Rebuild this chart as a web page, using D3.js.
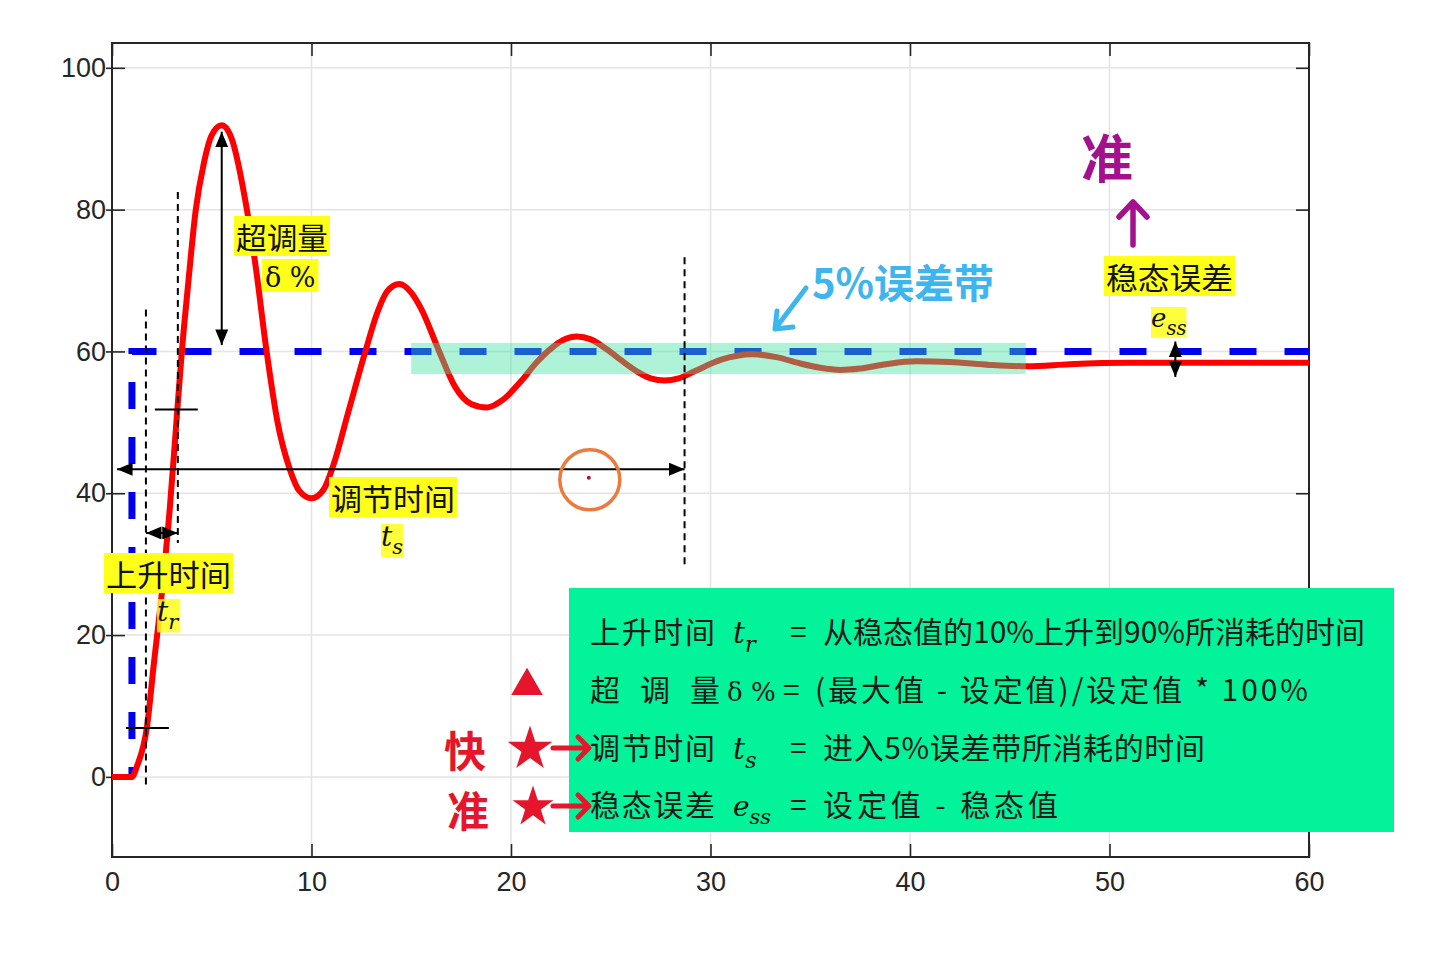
<!DOCTYPE html>
<html>
<head>
<meta charset="utf-8">
<script src="https://cdn.jsdelivr.net/npm/d3@7"></script>
<style>
  body { margin: 0; background: #fff; }
  svg { display: block; }
</style>
</head>
<body>
<script>
// 系统阶跃响应曲线
const respT = [0, 1.0, 1.25, 1.75, 2.1, 2.5, 2.9, 3.2, 3.5, 3.8, 4.2, 4.6, 5.0, 5.5, 6.0, 6.7, 7.2, 7.75, 8.3, 8.9, 9.4, 10.0, 10.6, 11.1, 11.8, 12.7, 13.3, 13.8, 14.4, 15.0, 15.5, 16.4, 17.2, 18.0, 18.8, 19.6, 20.5, 21.3, 22.0, 22.6, 23.3, 24.0, 24.8, 25.5, 26.3, 27.0, 27.7, 28.4, 29.2, 30.5, 32.1, 33.3, 34.5, 35.5, 36.5, 37.5, 38.8, 40.3, 42.0, 44.0, 45.9, 48.0, 51.0, 60.0];
const respV = [0, 0, 1.5, 7, 16, 26, 38, 49, 60, 69, 80, 86.5, 90.5, 91.9, 90, 81, 72, 60, 50, 43.5, 40.3, 39.3, 40.5, 44, 51, 60, 65.5, 68.5, 69.5, 68.3, 66, 60, 55, 52.6, 52.1, 53.2, 55.8, 58.5, 60.4, 61.6, 62.1, 61.7, 60.3, 58.8, 57.2, 56.2, 55.9, 56.2, 57.2, 58.8, 59.6, 59.2, 58.3, 57.7, 57.4, 57.6, 58.2, 58.6, 58.5, 58.1, 57.9, 58.2, 58.4, 58.4];

// 设定值 (阶跃输入)
const setT = [1, 1, 60];
const setV = [0, 60, 60];

// 坐标轴刻度
const xTicks = [0, 10, 20, 30, 40, 50, 60];
const yTicks = [0, 20, 40, 60, 80, 100];

// 5% 误差带
const bandT = [15, 45.8];
const bandV = [56.8, 61.2];

// 标注用的时间点和数值
const riseTimes = [1.7, 3.3];
const riseLevels = [6.9, 51.8];
const settleTime = 28.7;
const peakTime = 5.5;
const peakValue = 91.9;
const essTime = 53.3;

const width = 1440, height = 966;
const svg = d3.select("body").append("svg")
  .attr("width", width)
  .attr("height", height);

const x = d3.scaleLinear().domain([0, 60]).range([112, 1309]);
const y = d3.scaleLinear().domain([-11.3, 103.5]).range([857, 43]);

const defs = svg.append("defs");
defs.append("marker")
  .attr("id", "head")
  .attr("viewBox", "0 0 12 10")
  .attr("refX", 12).attr("refY", 5)
  .attr("markerUnits", "userSpaceOnUse")
  .attr("markerWidth", 16).attr("markerHeight", 13)
  .attr("orient", "auto-start-reverse")
  .append("path")
  .attr("d", "M0,0 L12,5 L0,10 z")
  .attr("fill", "#000");

// 网格
const grid = svg.append("g").attr("stroke", "#e4e4e4").attr("stroke-width", 1.5);
grid.selectAll(".gx").data(xTicks).join("line")
  .attr("x1", x).attr("x2", x)
  .attr("y1", y.range()[1]).attr("y2", y.range()[0]);
grid.selectAll(".gy").data(yTicks).join("line")
  .attr("y1", y).attr("y2", y)
  .attr("x1", x.range()[0]).attr("x2", x.range()[1]);

// 坐标轴
function styleAxis(g) {
  g.select(".domain").remove();
  g.selectAll("line").attr("stroke", "#262626").attr("stroke-width", 1.6);
  g.selectAll("text")
    .attr("font-family", "Liberation Sans, Arial, sans-serif")
    .attr("font-size", 27)
    .attr("fill", "#262626");
}
svg.append("g")
  .attr("transform", `translate(0,${y.range()[0]})`)
  .call(d3.axisBottom(x).tickValues(xTicks).tickSize(-13).tickPadding(15))
  .call(styleAxis);
svg.append("g")
  .attr("transform", `translate(${x.range()[0]},0)`)
  .call(d3.axisLeft(y).tickValues(yTicks).tickSize(-13).tickPadding(6))
  .call(styleAxis);
svg.append("g")
  .attr("transform", `translate(${x.range()[0]},0)`)
  .call(d3.axisLeft(y).tickValues(yTicks).tickSize(6).tickFormat(""))
  .call(styleAxis);
svg.append("g")
  .attr("transform", `translate(0,${y.range()[1]})`)
  .call(d3.axisTop(x).tickValues(xTicks).tickSize(-13).tickFormat(""))
  .call(styleAxis);
svg.append("g")
  .attr("transform", `translate(${x.range()[1]},0)`)
  .call(d3.axisRight(y).tickValues(yTicks).tickSize(-13).tickFormat(""))
  .call(styleAxis);

svg.append("rect")
  .attr("x", x.range()[0]).attr("y", y.range()[1])
  .attr("width", x.range()[1] - x.range()[0])
  .attr("height", y.range()[0] - y.range()[1])
  .attr("fill", "none").attr("stroke", "#262626").attr("stroke-width", 2);

// 设定值虚线
svg.append("path")
  .datum(d3.zip(setT, setV))
  .attr("d", d3.line().x(d => x(d[0])).y(d => y(d[1])))
  .attr("fill", "none")
  .attr("stroke", "#0000ee")
  .attr("stroke-width", 7)
  .attr("stroke-dasharray", "27 28")
  .attr("stroke-dashoffset", 17);

// 响应曲线
svg.append("path")
  .datum(d3.zip(respT, respV))
  .attr("d", d3.line().x(d => x(d[0])).y(d => y(d[1])).curve(d3.curveMonotoneX))
  .attr("fill", "none")
  .attr("stroke", "#ff0000")
  .attr("stroke-width", 6)
  .attr("stroke-linejoin", "round");

// 误差带
svg.append("rect")
  .attr("x", x(bandT[0])).attr("y", y(bandV[1]))
  .attr("width", x(bandT[1]) - x(bandT[0]))
  .attr("height", y(bandV[0]) - y(bandV[1]))
  .attr("fill", "#3de2a2")
  .attr("fill-opacity", 0.42);

// 黑色虚线
const vDash = [
  { t: riseTimes[0], v0: 65.9, v1: -1.5 },
  { t: riseTimes[1], v0: 82.5, v1: 33 },
  { t: settleTime, v0: 73.3, v1: 29.5 }
];
svg.selectAll(".vdash").data(vDash).join("line")
  .attr("x1", d => x(d.t)).attr("x2", d => x(d.t))
  .attr("y1", d => y(d.v0)).attr("y2", d => y(d.v1))
  .attr("stroke", "#000").attr("stroke-width", 2)
  .attr("stroke-dasharray", "7 5");

// 10% / 90% 短横线
const levelMarks = [
  { v: riseLevels[0], t0: 0.7, t1: 2.85 },
  { v: riseLevels[1], t0: 2.15, t1: 4.3 }
];
svg.selectAll(".lvl").data(levelMarks).join("line")
  .attr("x1", d => x(d.t0)).attr("x2", d => x(d.t1))
  .attr("y1", d => y(d.v)).attr("y2", d => y(d.v))
  .attr("stroke", "#000").attr("stroke-width", 2);

// 双向箭头
const arrows = [
  { t0: 0.25, v0: 43.4, t1: settleTime, v1: 43.4 },
  { t0: riseTimes[0], v0: 34.4, t1: riseTimes[1], v1: 34.4 },
  { t0: peakTime, v0: peakValue - 0.9, t1: peakTime, v1: 60.9 },
  { t0: essTime, v0: 61.4, t1: essTime, v1: 56.4 }
];
svg.selectAll(".arr").data(arrows).join("line")
  .attr("x1", d => x(d.t0)).attr("y1", d => y(d.v0))
  .attr("x2", d => x(d.t1)).attr("y2", d => y(d.v1))
  .attr("stroke", "#000").attr("stroke-width", 2)
  .attr("marker-start", "url(#head)")
  .attr("marker-end", "url(#head)");

// 橙色圆圈
svg.append("circle")
  .attr("cx", x(23.95)).attr("cy", y(41.9)).attr("r", 30)
  .attr("fill", "none").attr("stroke", "#ec7a3e").attr("stroke-width", 3.5);
svg.append("circle")
  .attr("cx", x(23.9)).attr("cy", y(42.2)).attr("r", 2)
  .attr("fill", "#b0103a");

// 黄色标签
const cjk = "Noto Sans CJK SC, sans-serif";
const mathFont = "DejaVu Serif, Liberation Serif, serif";
function yellowLabel(px, py, txt, size, len) {
  const g = svg.append("g");
  const t = g.append("text")
    .attr("x", px).attr("y", py)
    .attr("font-family", cjk).attr("font-size", size)
    .attr("fill", "#111")
    .text(txt);
  if (len) t.attr("textLength", len).attr("lengthAdjust", "spacingAndGlyphs");
  const b = t.node().getBBox();
  g.insert("rect", "text")
    .attr("x", b.x - 2).attr("y", b.y + 2)
    .attr("width", b.width + 4).attr("height", b.height - 4)
    .attr("fill", "#ffff1a");
  return g;
}
function mathLabel(px, py, base, sub, size, bg) {
  const g = svg.append("g");
  const t = g.append("text")
    .attr("x", px).attr("y", py)
    .attr("font-family", mathFont).attr("font-style", "italic")
    .attr("font-size", size).attr("fill", "#111");
  t.append("tspan").text(base);
  t.append("tspan").attr("dy", size * 0.3).attr("font-size", size * 0.75).text(sub);
  if (bg) {
    const b = t.node().getBBox();
    g.insert("rect", "text")
      .attr("x", b.x).attr("y", b.y + 4)
      .attr("width", b.width).attr("height", b.height - 6)
      .attr("fill", "#ffff1a").attr("opacity", 0.85);
  }
  return g;
}

yellowLabel(236, 249, "超调量", 30, 92);
const dl = svg.append("g");
const dt = dl.append("text").attr("x", 265).attr("y", 287)
  .attr("font-family", mathFont).attr("font-size", 27).attr("fill", "#111")
  .text("δ %");
const db = dt.node().getBBox();
dl.insert("rect", "text").attr("x", 262).attr("y", 259)
  .attr("width", db.width + 6).attr("height", 33).attr("fill", "#ffff1a");

yellowLabel(331, 510, "调节时间", 30, 124);
mathLabel(381, 546, "t", "s", 28, true);
yellowLabel(106, 586, "上升时间", 30, 125);
mathLabel(157, 621, "t", "r", 28, true);
yellowLabel(1106, 289, "稳态误差", 30, 127);
mathLabel(1151, 327, "e", "ss", 26, true);

// 绿色说明框
svg.append("rect")
  .attr("x", 569).attr("y", 588)
  .attr("width", 825).attr("height", 244)
  .attr("fill", "#02f39a");

function boxText(px, py, txt, len, opts = {}) {
  const t = svg.append("text")
    .attr("x", px).attr("y", py)
    .attr("font-family", opts.font || cjk)
    .attr("font-size", opts.size || 30)
    .attr("fill", "#1a1a1a")
    .text(txt);
  if (len) t.attr("textLength", len).attr("lengthAdjust", "spacing");
  return t;
}
const lines = [643, 701, 759, 816];
boxText(590, lines[0], "上升时间", 125);
mathLabel(733, lines[0], "t", "r", 30, false);
boxText(790, lines[0], "=", null);
boxText(823, lines[0], "从稳态值的10%上升到90%所消耗的时间", 542);

boxText(590, lines[1], "超", null);
boxText(640, lines[1], "调", null);
boxText(690, lines[1], "量", null);
boxText(727, lines[1], "δ %", null, { font: mathFont, size: 26 });
boxText(783, lines[1], "=", null);
boxText(815, lines[1], "(最大值 - 设定值)/设定值 * 100%", 493);

boxText(590, lines[2], "调节时间", 125);
mathLabel(733, lines[2], "t", "s", 30, false);
boxText(790, lines[2], "=", null);
boxText(823, lines[2], "进入5%误差带所消耗的时间", 382);

boxText(590, lines[3], "稳态误差", 125);
mathLabel(733, lines[3], "e", "ss", 28, false);
boxText(790, lines[3], "=", null);
boxText(823, lines[3], "设定值 - 稳态值", 235);

// 手写标注
const red = "#e5162c";
svg.append("text")
  .attr("x", 812).attr("y", 298)
  .attr("font-family", cjk).attr("font-weight", 700)
  .attr("font-size", 40).attr("fill", "#3db6ef")
  .attr("textLength", 182).attr("lengthAdjust", "spacingAndGlyphs")
  .text("5%误差带");
svg.append("path")
  .attr("d", "M806,288 L775,329 M775,329 L777,311 M775,329 L793,327")
  .attr("fill", "none").attr("stroke", "#3db6ef")
  .attr("stroke-width", 5).attr("stroke-linecap", "round").attr("stroke-linejoin", "round");

svg.append("text")
  .attr("x", 1107).attr("y", 178).attr("text-anchor", "middle")
  .attr("font-family", cjk).attr("font-weight", 700)
  .attr("font-size", 52).attr("fill", "#a3128c")
  .text("准");
svg.append("path")
  .attr("d", "M1133,245 L1133,203 M1119,217 L1133,202 L1147,217")
  .attr("fill", "none").attr("stroke", "#a3128c")
  .attr("stroke-width", 5.5).attr("stroke-linecap", "round").attr("stroke-linejoin", "round");

svg.append("text")
  .attr("x", 465).attr("y", 767).attr("text-anchor", "middle")
  .attr("font-family", cjk).attr("font-weight", 700)
  .attr("font-size", 42).attr("fill", red)
  .text("快");
svg.append("text")
  .attr("x", 468).attr("y", 827).attr("text-anchor", "middle")
  .attr("font-family", cjk).attr("font-weight", 700)
  .attr("font-size", 42).attr("fill", red)
  .text("准");

svg.append("path")
  .attr("transform", "translate(527,686)")
  .attr("d", d3.symbol(d3.symbolTriangle, 430)())
  .attr("fill", red);
svg.append("path")
  .attr("transform", "translate(530,749)")
  .attr("d", d3.symbol(d3.symbolStar, 620)())
  .attr("fill", red);
svg.append("path")
  .attr("transform", "translate(533,807)")
  .attr("d", d3.symbol(d3.symbolStar, 520)())
  .attr("fill", red);

[748, 806].forEach(py => {
  svg.append("path")
    .attr("d", `M553,${py} L588,${py} M578,${py - 11} L589,${py} L578,${py + 11}`)
    .attr("fill", "none").attr("stroke", red)
    .attr("stroke-width", 5).attr("stroke-linecap", "round").attr("stroke-linejoin", "round");
});
</script>
</body>
</html>
